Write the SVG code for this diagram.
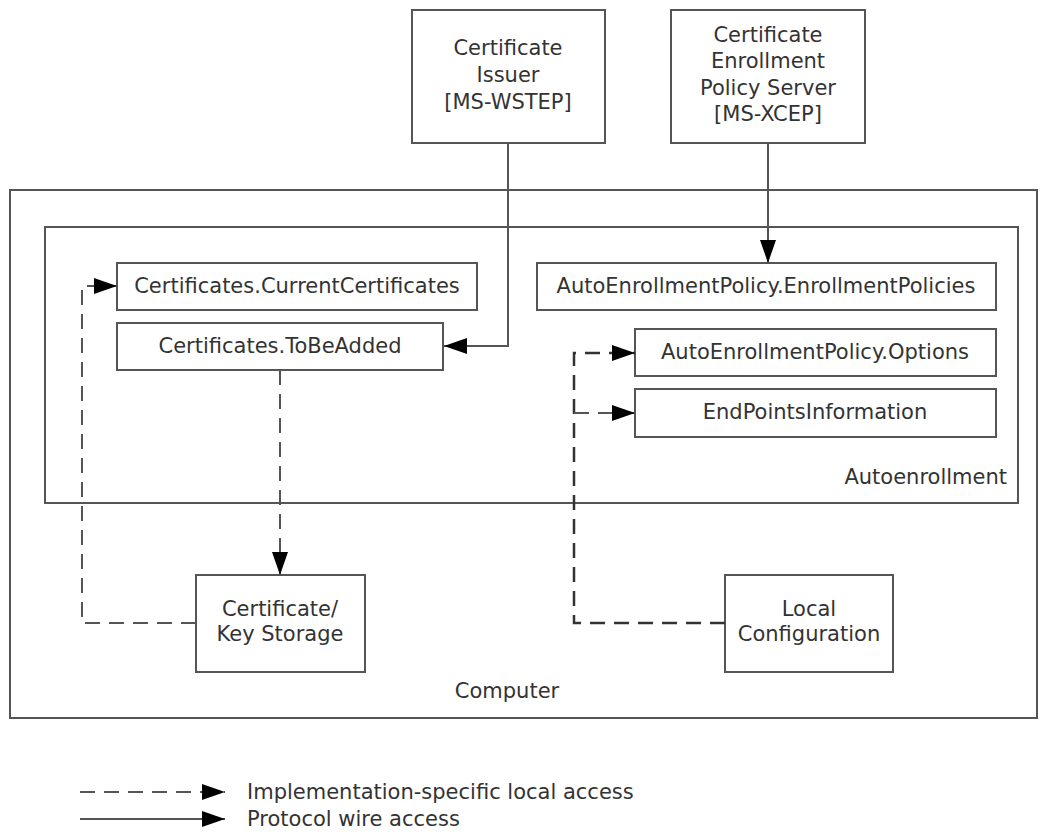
<svg xmlns="http://www.w3.org/2000/svg" width="1047" height="837" viewBox="0 0 1047 837">
<style>
.box{fill:#fff;stroke:#555;stroke-width:2}
.frame{fill:none;stroke:#555;stroke-width:2}
.t{font-family:"DejaVu Sans",Verdana,sans-serif;font-size:21px;fill:#333;text-anchor:middle;dominant-baseline:central}
.tr{text-anchor:end}
.tl{text-anchor:start}
.solid{fill:none;stroke:#555;stroke-width:2}
.dash{fill:none;stroke:#555;stroke-width:2;stroke-dasharray:15 9}
.dashdk{fill:none;stroke:#333;stroke-width:2.5;stroke-dasharray:15 9}
</style>
<defs>
<marker id="ah" viewBox="0 0 23 16" refX="23" refY="8" markerWidth="23" markerHeight="16" markerUnits="userSpaceOnUse" orient="auto">
<path d="M0,0 L23,8 L0,16 Z" fill="#000"/>
</marker>
</defs>
<rect width="1047" height="837" fill="#fff"/>
<g id="computer">
<rect class="frame" x="10" y="190" width="1027" height="528"/>
<text class="t" x="507" y="691">Computer</text>
</g>
<g id="autoenrollment">
<rect class="frame" x="45" y="227" width="973" height="276"/>
<text class="t tr" x="1007" y="477">Autoenrollment</text>
</g>
<g id="issuer">
<rect class="box" x="412" y="10" width="193" height="133"/>
<text class="t" x="508" y="48">Certificate</text>
<text class="t" x="508" y="75">Issuer</text>
<text class="t" x="508" y="102">[MS-WSTEP]</text>
</g>
<g id="policyserver">
<rect class="box" x="671" y="10" width="194" height="133"/>
<text class="t" x="768" y="35">Certificate</text>
<text class="t" x="768" y="61">Enrollment</text>
<text class="t" x="768" y="88">Policy Server</text>
<text class="t" x="768" y="114">[MS-XCEP]</text>
</g>
<g id="currentcerts">
<rect class="box" x="117" y="263" width="360" height="47"/>
<text class="t" x="297" y="286">Certificates.CurrentCertificates</text>
</g>
<g id="tobeadded">
<rect class="box" x="117" y="323" width="326" height="47"/>
<text class="t" x="280" y="346">Certificates.ToBeAdded</text>
</g>
<g id="enrollmentpolicies">
<rect class="box" x="537" y="263" width="459" height="47"/>
<text class="t" x="766" y="286">AutoEnrollmentPolicy.EnrollmentPolicies</text>
</g>
<g id="options">
<rect class="box" x="635" y="329" width="361" height="47"/>
<text class="t" x="815" y="352">AutoEnrollmentPolicy.Options</text>
</g>
<g id="endpoints">
<rect class="box" x="635" y="389" width="361" height="48"/>
<text class="t" x="815" y="412">EndPointsInformation</text>
</g>
<g id="keystorage">
<rect class="box" x="196" y="575" width="169" height="97"/>
<text class="t" x="280" y="609">Certificate/</text>
<text class="t" x="280" y="634">Key Storage</text>
</g>
<g id="localconfig">
<rect class="box" x="725" y="575" width="168" height="97"/>
<text class="t" x="809" y="609">Local</text>
<text class="t" x="809" y="634">Configuration</text>
</g>
<g id="connectors">
<path class="solid" d="M508,143 V346 H444" marker-end="url(#ah)"/>
<path class="solid" d="M768,143 V263" marker-end="url(#ah)"/>
<path class="dash" d="M196,623 H82 V286 H117" marker-end="url(#ah)"/>
<path class="dash" d="M280,370 V575" marker-end="url(#ah)"/>
<path class="dashdk" d="M725,623 H574 V353 H635" marker-end="url(#ah)"/>
<path class="dash" d="M574,413 H635" marker-end="url(#ah)"/>
</g>
<g id="legend">
<path class="dash" d="M80,792 H225" marker-end="url(#ah)"/>
<text class="t tl" x="247" y="792">Implementation-specific local access</text>
<path class="solid" d="M80,819 H225" marker-end="url(#ah)"/>
<text class="t tl" x="247" y="819">Protocol wire access</text>
</g>
</svg>
